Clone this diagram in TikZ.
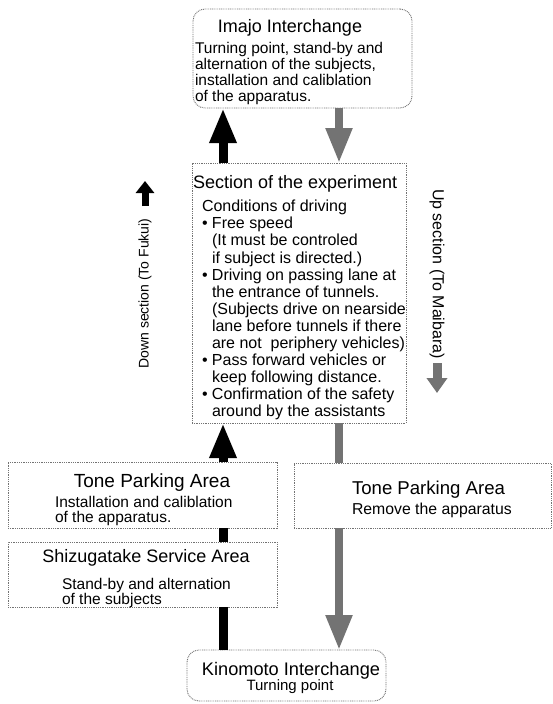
\documentclass[tikz,border=0pt]{standalone}
\usepackage{fontspec}
\setmainfont{Liberation Sans}
\usetikzlibrary{arrows.meta}
\definecolor{dotc}{gray}{0.45}
\definecolor{grya}{gray}{0.45}
\newcommand{\fsz}[2]{\fontsize{#1}{#2}\selectfont}
\tikzset{
  box/.style={draw=dotc, line width=0.9pt, dash pattern=on 0.9pt off 0.9pt, inner sep=0pt, outer sep=0pt},
  rbox/.style={box, rounded corners=12pt},
  txt/.style={inner sep=0pt, outer sep=0pt, align=left},
  blk/.style={line width=9pt, draw=black, -{Triangle[length=35pt,width=25pt]}},
  blkbar/.style={line width=9pt, draw=black},
  gry/.style={line width=8pt, draw=grya, -{Triangle[length=35pt,width=25pt]}},
  grybar/.style={line width=8pt, draw=grya},
  blksmall/.style={line width=7pt, draw=black, -{Triangle[length=12pt,width=18pt]}},
  grysmall/.style={line width=9pt, draw=grya, -{Triangle[length=15pt,width=20pt]}},
}
\begin{document}
\begin{tikzpicture}[x=1pt,y=-1pt]
\fill[white] (0,0) rectangle (553,704);
\useasboundingbox (0,0) rectangle (553,704);

% boxes
\node[rbox, minimum width=219pt, minimum height=99pt] (imajo) at (302.5,58.5) {};
\node[box, minimum width=214pt, minimum height=260pt] (sec) at (299,293) {};
\node[box, minimum width=269pt, minimum height=66pt] (toneL) at (142.5,495) {};
\node[box, minimum width=269pt, minimum height=65pt] (shiz) at (142.5,574.5) {};
\node[box, minimum width=257pt, minimum height=65pt] (toneR) at (422.5,495.5) {};
\node[rbox, minimum width=199pt, minimum height=51pt] (kino) at (286.5,675.5) {};

% texts
\node[txt, anchor=base, font=\fsz{18}{20}] (imajoT) at (290,32.5) {Imajo Interchange};
\node[txt, anchor=north west, font=\fsz{15.5}{16.2}] (imajoB) at (195,41.9)
  {Turning point, stand-by and\\alternation of the subjects,\\installation and caliblation\\of the apparatus.};

\node[txt, anchor=base west, font=\fsz{18}{20}] (secT) at (193,188.5) {Section of the experiment};
\node[txt, anchor=north west, font=\fsz{16}{17.1}] (secB) at (202,200.2)
  {Conditions of driving\\
   \makebox[10pt][l]{•}Free speed\\
   \hspace*{10pt}(It must be controled\\
   \hspace*{10pt}if subject is directed.)\\
   \makebox[10pt][l]{•}Driving on passing lane at\\
   \hspace*{10pt}the entrance of tunnels.\\
   \hspace*{10pt}(Subjects drive on nearside\\
   \hspace*{10pt}lane before tunnels if there\\
   \hspace*{10pt}are not\ \ periphery vehicles)\\
   \makebox[10pt][l]{•}Pass forward vehicles or\\
   \hspace*{10pt}keep following distance.\\
   \makebox[10pt][l]{•}Confirmation of the safety\\
   \hspace*{10pt}around by the assistants};

\node[txt, anchor=base, font=\fsz{19}{21}] (toneLT) at (152,487) {Tone Parking Area};
\node[txt, anchor=north west, font=\fsz{15.5}{15}] (toneLB) at (55,495.9)
  {Installation and caliblation\\of the apparatus.};

\node[txt, anchor=base, font=\fsz{18}{20}] (shizT) at (146,562) {Shizugatake Service Area};
\node[txt, anchor=north west, font=\fsz{15.5}{15.5}] (shizB) at (62,577.9)
  {Stand-by and alternation\\of the subjects};

\node[txt, anchor=base west, font=\fsz{18.6}{20}] (toneRT) at (352,494) {Tone Parking Area};
\node[txt, anchor=base west, font=\fsz{15.8}{17}] (toneRB) at (352,514) {Remove the apparatus};

\node[txt, anchor=base, font=\fsz{18.2}{20}] (kinoT) at (291,675) {Kinomoto Interchange};
\node[txt, anchor=base, font=\fsz{15}{17}] (kinoB) at (290,690) {Turning point};

\node[txt, rotate=90, font=\fsz{14}{16}] (downL) at (145,293.5) {Down section (To Fukui)};
\node[txt, rotate=-90, font=\fsz{16}{18}] (upL) at (437,274) {Up section (To Maibara)};

% connector x positions
\coordinate (xL) at (223,0);
\coordinate (xR) at (339,0);

% connectors
\draw[blk] (sec.north -| xL) -- (imajo.south -| xL);
\draw[gry] (imajo.south -| xR) -- (sec.north -| xR);
\draw[blk] (toneL.north -| xL) -- (sec.south -| xL);
\draw[blkbar] (shiz.north -| xL) -- (toneL.south -| xL);
\draw[blkbar] (kino.north -| xL) -- (shiz.south -| xL);
\draw[grybar] (sec.south -| xR) -- (toneR.north -| xR);
\draw[gry] (toneR.south -| xR) -- (kino.north -| xR);

% direction arrows beside the labels
\coordinate (dA) at (145,206);
\coordinate (dB) at (145,181);
\draw[blksmall] (dA) -- (dB);
\coordinate (uA) at (437,363);
\coordinate (uB) at (437,393);
\draw[grysmall] (uA) -- (uB);
\end{tikzpicture}
\end{document}
